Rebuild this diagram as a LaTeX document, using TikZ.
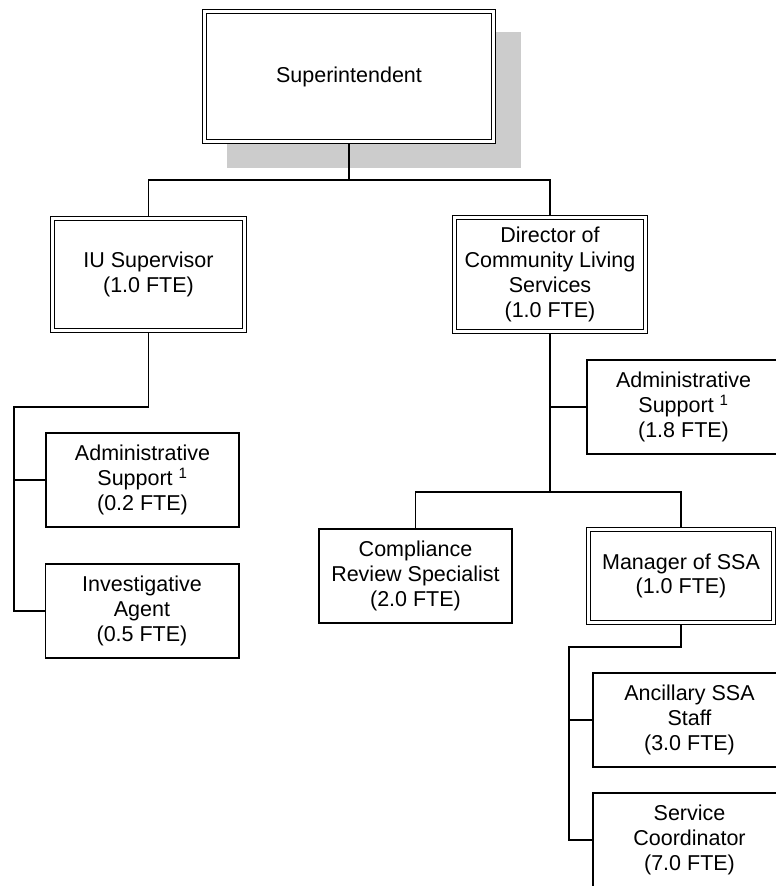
\documentclass[tikz,border=0pt]{standalone}
\usepackage{fontspec}
\setmainfont{Liberation Sans}
\usepackage{tikz}
\usetikzlibrary{calc}

\begin{document}
\begin{tikzpicture}[x=1pt,y=-1pt,
  post/.style={draw,line width=1.8pt,align=center,inner sep=0pt,
    minimum width=193.2pt,minimum height=94.2pt,
    font=\fontsize{21.5}{24.8}\selectfont},
  lead/.style={post,double,line width=1.5pt,double distance=2.2pt,outer sep=2.6pt},
  wire/.style={line width=1.9pt}]
\clip (0,0) rectangle (776,886);
%%
\fill[black!20] (227,32) rectangle (521,168);
\node[lead,fill=white,minimum width=289pt,minimum height=130pt] (sup) at (349,76.5) {Superintendent};
\node[lead,minimum width=192pt,minimum height=112pt] (iu) at (148.5,274.5) {IU Supervisor\\(1.0 FTE)};
\node[lead,minimum width=191pt,minimum height=114pt] (dir) at (550,274.5) {Director of\\Community Living\\Services\\(1.0 FTE)};
\node[post] (adm2) at (142.5,480) {Administrative\\Support \textsuperscript{1}\\(0.2 FTE)};
\node[post] (inv) at (142,611) {Investigative\\Agent\\(0.5 FTE)};
\node[post] (adm18) at (683.5,407) {Administrative\\Support \textsuperscript{1}\\(1.8 FTE)};
\node[post] (comp) at (415.5,576) {Compliance\\Review Specialist\\(2.0 FTE)};
\node[lead,minimum width=185pt,minimum height=93pt] (mgr) at (681,576) {Manager of SSA\\(1.0 FTE)};
\node[post] (anc) at (689.5,720) {Ancillary SSA\\Staff\\(3.0 FTE)};
\node[post] (svc) at (689.5,840) {Service\\Coordinator\\(7.0 FTE)};
%%
\coordinate (topbar) at (349,180);
\coordinate (lbend) at (14,407);
\coordinate (rbar) at (550,492);
\coordinate (mbend) at (569,647);
\draw[wire] (sup.south) -- (topbar);
\draw[wire] (iu.north) |- (topbar) -| (dir.north);
\draw[wire] (iu.south) |- (lbend) |- (inv.west);
\draw[wire] (adm2.west) -- (adm2.west -| lbend);
\draw[wire] (dir.south) -- (rbar);
\draw[wire] (adm18.west) -- (adm18.west -| rbar);
\draw[wire] (comp.north) |- (rbar) -| (mgr.north);
\draw[wire] (mgr.south) |- (mbend) |- (svc.west);
\draw[wire] (anc.west) -- (anc.west -| mbend);
\end{tikzpicture}
\end{document}
